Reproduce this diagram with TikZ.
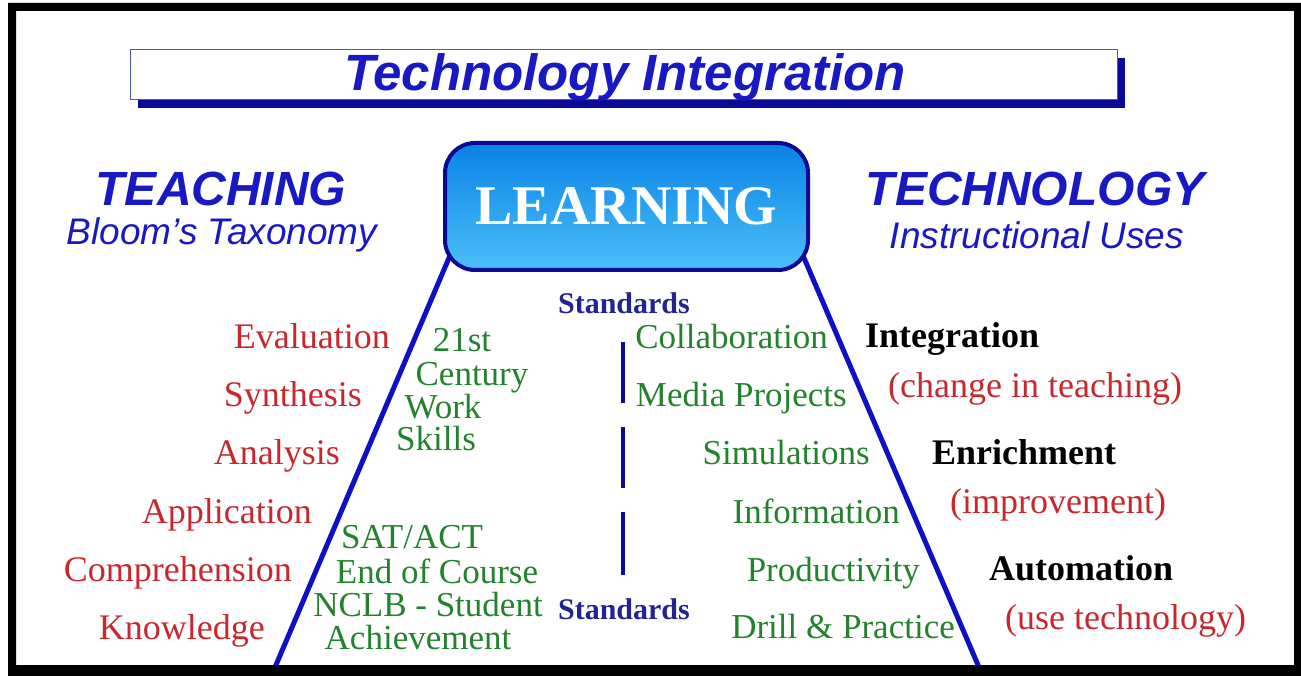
\documentclass[tikz,border=0pt]{standalone}
\usepackage{fontspec}
\setmainfont{Liberation Serif}
\newfontfamily\arialf{Liberation Sans}
\usetikzlibrary{shadows,calc,backgrounds}
\definecolor{tblue}{RGB}{25,25,195}
\definecolor{lblue}{RGB}{15,15,200}
\definecolor{sblue}{RGB}{35,35,150}
\definecolor{tgreen}{RGB}{35,130,45}
\definecolor{tred}{RGB}{200,40,45}
\definecolor{bdark}{RGB}{10,10,150}
\definecolor{shtop}{RGB}{10,130,230}
\definecolor{shbot}{RGB}{75,192,248}
\tikzset{
  txtshift/.style={yshift=-9pt},
  redtxt/.style={font=\fontsize{36}{40}\selectfont, text=tred, inner sep=0, txtshift},
  grntxt/.style={font=\fontsize{35}{39}\selectfont, text=tgreen, inner sep=0, txtshift},
  blktxt/.style={font=\fontsize{36}{40}\selectfont\bfseries, text=black, inner sep=0, txtshift},
  stdtxt/.style={font=\fontsize{30}{34}\selectfont\bfseries, text=sblue, inner sep=0, txtshift},
  headtxt/.style={font=\arialf\fontsize{48}{52}\selectfont\bfseries\itshape, text=tblue, inner sep=0},
  subtxt/.style={font=\arialf\fontsize{37}{41}\selectfont\itshape, text=tblue, inner sep=0},
  bline/.style={draw=lblue, line width=5},
  dashline/.style={draw=bdark, line width=4}
}
\begin{document}
\begin{tikzpicture}[x=1pt,y=-1pt]
\useasboundingbox (0,0) rectangle (1301,676);
% title
\node[draw=bdark!70, line width=1, fill=white, minimum width=987, minimum height=50,
  drop shadow={shadow xshift=8pt, shadow yshift=-8pt, fill=bdark, opacity=1}]
  (titlebox) at (623.5,75) {};
\node[font=\arialf\fontsize{51}{55}\selectfont\bfseries\itshape, text=tblue, inner sep=0, anchor=base]
  (title) at (625,91) {Technology Integration};
% learning box
\node[draw=bdark, line width=4, rounded corners=30, top color=shtop, bottom color=shbot,
  minimum width=363, minimum height=127, text=white,
  font=\fontsize{56}{60}\selectfont\bfseries] (learn) at (626.5,206.5) {LEARNING};
% slanted lines
\coordinate (lb) at (273,672);
\coordinate (rb) at (981,672);
\begin{pgfonlayer}{background}
\fill[white] (0,0) rectangle (1301,676);
\draw[bline] (lb) -- ($(lb)!1.05!(learn.south west)$);
\draw[bline] (rb) -- ($(rb)!1.05!(learn.south east)$);
\end{pgfonlayer}
% headers
\node[headtxt] (teach) at (221,189) {TEACHING};
\node[subtxt] (bloom) at (222,235) {Bloom’s Taxonomy};
\node[headtxt] (tech) at (1035,189) {TECHNOLOGY};
\node[subtxt] (instr) at (1037,235) {Instructional Uses};
% bloom list
\node[redtxt, anchor=mid east] (eval) at (390,337) {Evaluation};
\node[redtxt, anchor=mid east] (synt) at (362,395) {Synthesis};
\node[redtxt, anchor=mid east] (anal) at (340,453) {Analysis};
\node[redtxt, anchor=mid east] (appl) at (312,512) {Application};
\node[redtxt, anchor=mid east] (comp) at (292,570) {Comprehension};
\node[redtxt, anchor=mid east] (know) at (265,628) {Knowledge};
% 21st century
\node[grntxt, anchor=mid] (c1) at (462,340) {21st};
\node[grntxt, anchor=mid] (c2) at (472,374) {Century};
\node[grntxt, anchor=mid] (c3) at (443,407) {Work};
\node[grntxt, anchor=mid] (c4) at (436,439) {Skills};
\node[grntxt, anchor=mid] (s1) at (412,537) {SAT/ACT};
\node[grntxt, anchor=mid] (s2) at (437,572) {End of Course};
\node[grntxt, anchor=mid] (s3) at (428,605) {NCLB - Student};
\node[grntxt, anchor=mid] (s4) at (418,638) {Achievement};
% standards
\node[stdtxt, anchor=mid] (stdtop) at (624,302) {Standards};
\node[stdtxt, anchor=mid] (stdbot) at (624,608) {Standards};
\draw[dashline] (623,342) -- (623,403);
\draw[dashline] (623,427) -- (623,488);
\draw[dashline] (623,512) -- (623,575);
% technology uses
\node[grntxt, anchor=mid east] (collab) at (828,337) {Collaboration};
\node[grntxt, anchor=mid east] (media) at (847,395) {Media Projects};
\node[grntxt, anchor=mid east] (simul) at (870,453) {Simulations};
\node[grntxt, anchor=mid east] (info) at (900,512) {Information};
\node[grntxt, anchor=mid east] (prod) at (920,570) {Productivity};
\node[grntxt, anchor=mid east] (drill) at (955,627) {Drill \& Practice};
% levels
\node[blktxt, anchor=mid west] (integ) at (865,336) {Integration};
\node[redtxt, anchor=mid west] (chg) at (888,386) {(change in teaching)};
\node[blktxt, anchor=mid west] (enr) at (932,453) {Enrichment};
\node[redtxt, anchor=mid west] (impr) at (950,502) {(improvement)};
\node[blktxt, anchor=mid west] (auto) at (989,569) {Automation};
\node[redtxt, anchor=mid west] (use) at (1005,618) {(use technology)};
% frame
\fill[black, even odd rule] (8,3) rectangle (1301,676) (16,11) rectangle (1294,665);
\end{tikzpicture}
\end{document}
